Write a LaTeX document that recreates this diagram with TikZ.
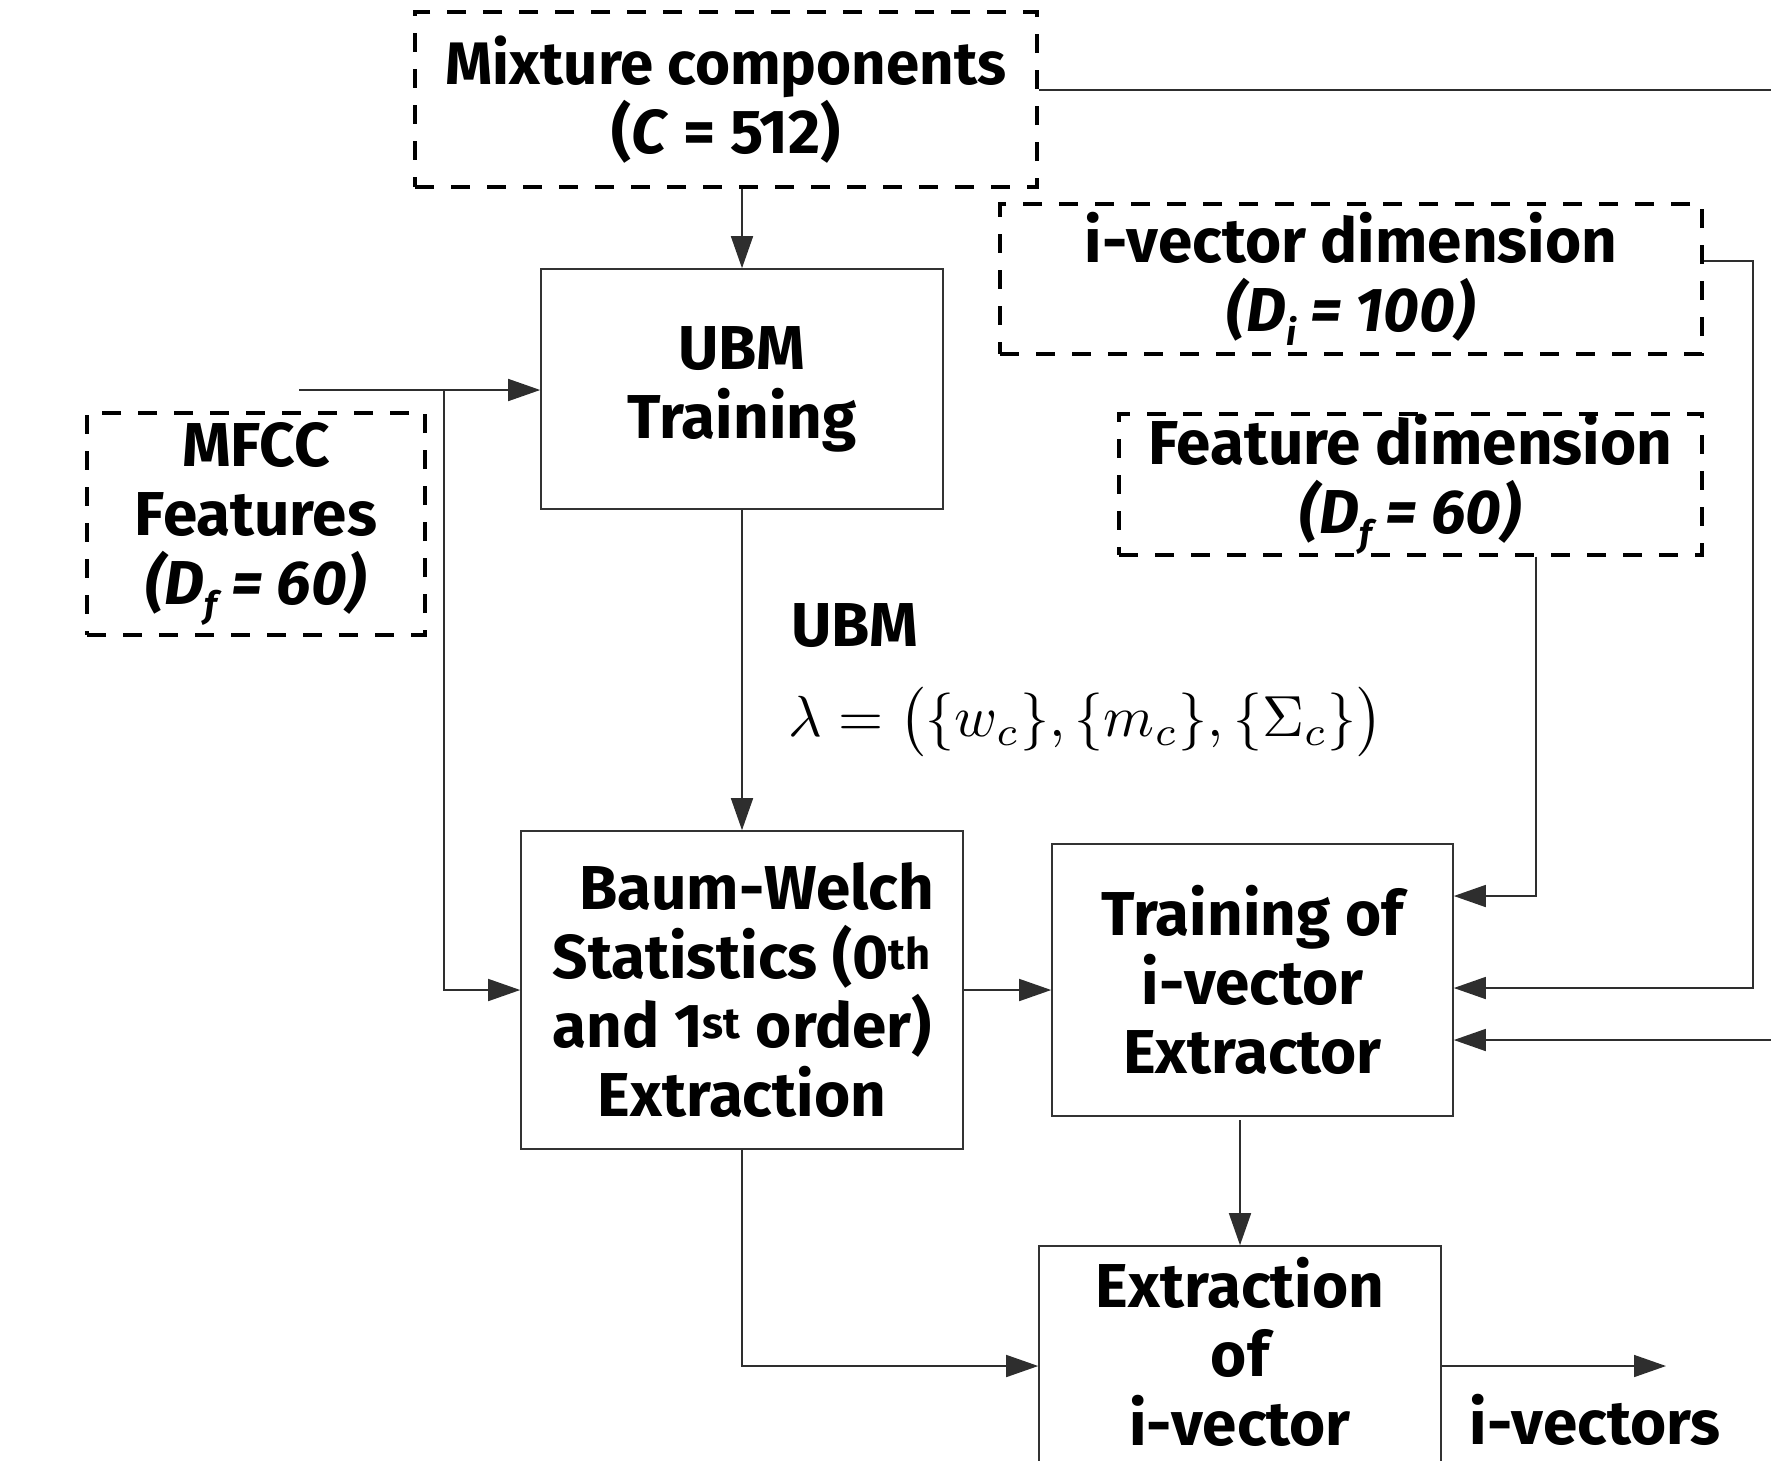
\documentclass[tikz,border=0pt]{standalone}
\usepackage{fontspec}
\setmainfont{Fira Sans}
\usetikzlibrary{arrows.meta}
\definecolor{boxgray}{gray}{0.2}
\definecolor{linegray}{gray}{0.18}
\newcommand{\lowsub}[1]{\raisebox{-0.22em}{\fontsize{36}{36}\selectfont #1}}

\begin{document}
\begin{tikzpicture}[x=1pt,y=-1pt,
  every node/.style={font=\bfseries\fontsize{62}{69}\selectfont, align=center, inner sep=0pt},
  solidbox/.style={draw=boxgray, line width=1.6pt},
  dashbox/.style={draw=black, line width=3.4pt, dash pattern=on 19pt off 17pt},
  conn/.style={draw=linegray, line width=1.6pt, -{Triangle[length=32pt,width=22pt]}}]

\path[use as bounding box] (0,0) rectangle (1771,1460);
\clip (0,0) rectangle (1771,1460);

% parameter boxes
\node[dashbox, minimum width=622pt, minimum height=175pt] (mix) at (726,99.5)
  {\fontsize{60}{69}\selectfont Mixture components\\(\textit{C} = 512)};
\node[dashbox, minimum width=702pt, minimum height=150pt] (idim) at (1351,279)
  {i-vector dimension\\\textit{(D\lowsub{i} = 100)}};
\node[dashbox, minimum width=583pt, minimum height=139pt] (fdim) at (1410.5,484.5)
  {Feature dimension\\\textit{(D\lowsub{f} = 60)}};
\node[dashbox, minimum width=338pt, minimum height=222pt] (mfcc) at (256,524)
  {MFCC\\Features\\\textit{(D\lowsub{f} = 60)}};

% processing blocks
\node[solidbox, minimum width=402pt, minimum height=240pt] (ubm) at (742,389)
  {UBM\\Training};
\node[solidbox, minimum width=442pt, minimum height=318pt] (bw) at (742,990)
  {\ \ Baum-Welch\\Statistics (0\textsuperscript{th}\\and 1\textsuperscript{st} order)\\Extraction};
\node[solidbox, minimum width=401pt, minimum height=272pt] (train) at (1252.5,980)
  {Training of\\i-vector\\Extractor};
\node[solidbox, minimum width=402pt, minimum height=240pt] (ext) at (1240,1366) {};
\node (extlbl) at (1240,1352) {Extraction\\of\\i-vector};

% labels
\node[anchor=west] (ubmlbl) at (791,626) {UBM};
\node[anchor=west, font=\normalfont\fontsize{10}{12}\selectfont] (lam) at (788,722)
  {\scalebox{5.8}{$\lambda = \bigl(\{w_c\},\{m_c\},\{\Sigma_c\}\bigr)$}};
\node (outlbl) at (1595,1420) {i-vectors};

% free ends
\coordinate (featin) at (299,390);
\coordinate (split) at (444,390);
\coordinate (outv) at (1666,1366);

% connectors
\draw[conn] (ubm.north |- mix.south) -- (ubm.north);
\draw[conn] (featin) -- (ubm.west |- featin);
\draw[conn] (split) -- (444,990) -- (bw.west);
\draw[conn] (ubm.south) -- (bw.north);
\draw[conn] (bw.east) -- (train.west |- bw.east);
\draw[conn] (bw.south) |- (ext.west);
\draw[conn] (ext.north |- 0,1120) -- (ext.north);
\draw[conn] (ext.east) -- (outv);
\draw[conn] (fdim.south -| 1536,0) -- (1536,896) -- (train.east |- 0,896);
\draw[conn] (idim.east |- 0,261) -- (1753,261) -- (1753,988) -- (train.east |- 0,988);
\draw[conn] (mix.east |- 0,90) -- (1800,90) -- (1800,1040) -- (train.east |- 0,1040);

\end{tikzpicture}
\end{document}
